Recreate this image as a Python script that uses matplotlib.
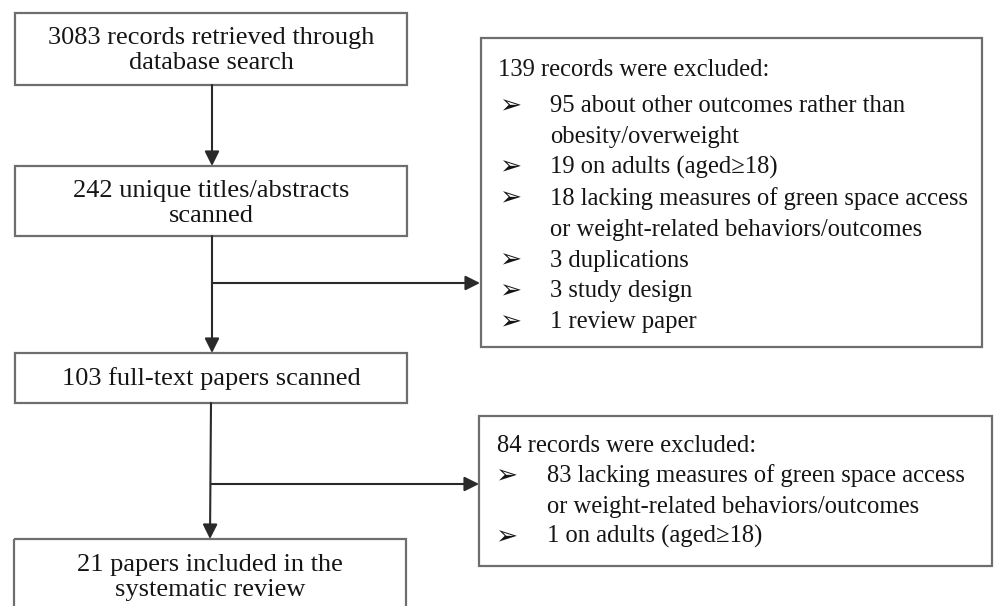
import matplotlib.pyplot as plt
from matplotlib.patches import Rectangle

# Teks untuk kotak di kolom kiri (alur utama)
main_steps = [
    "3083 records retrieved through\ndatabase search",
    "242 unique titles/abstracts\nscanned",
    "103 full-text papers scanned",
    "21 papers included in the\nsystematic review",
]

# Teks kotak pengecualian
excl1_title = "139 records were excluded:"
excl1_items = [
    "95 about other outcomes rather than\nobesity/overweight",
    "19 on adults (aged\u226518)",
    "18 lacking measures of green space access\nor weight-related behaviors/outcomes",
    "3 duplications",
    "3 study design",
    "1 review paper",
]
excl2_title = "84 records were excluded:"
excl2_items = [
    "83 lacking measures of green space access\nor weight-related behaviors/outcomes",
    "1 on adults (aged\u226518)",
]

FONT = ['Liberation Serif', 'DejaVu Serif']
BULLET_FONT = ['DejaVu Sans']
FS_MAIN = 19
FS_EXCL = 17.7
EDGE = '#6e6e6e'
LINE = '#2a2a2a'
TXT = '#151515'

fig = plt.figure(figsize=(9.97, 6.06), dpi=100)
ax = fig.add_axes([0, 0, 1, 1])
ax.set_xlim(0, 997)
ax.set_ylim(606, 0)
ax.axis('off')

# kotak kiri: (x0, y0, x1, y1) dan baseline baris pertama
main_boxes = [(15, 13, 407, 85), (15, 166, 407, 236), (15, 353, 407, 403), (14, 539, 406, 640)]
main_base = [44, 197, 385, 571]
for (x0, y0, x1, y1), by, txt in zip(main_boxes, main_base, main_steps):
    ax.add_patch(Rectangle((x0, y0), x1 - x0, y1 - y0, fill=False, edgecolor=EDGE, lw=1.6))
    for i, ln in enumerate(txt.split('\n')):
        ax.text((x0 + x1) / 2, by + i * 25, ln, ha='center', va='baseline',
                fontsize=FS_MAIN, family=FONT, color=TXT)


def arrow(x0, y0, x1, y1):
    ax.annotate('', xy=(x1, y1), xytext=(x0, y0),
                arrowprops=dict(arrowstyle='-|>', color=LINE, lw=1.5,
                                mutation_scale=22, shrinkA=0, shrinkB=0))


arrow(212, 85, 212, 166)
arrow(212, 236, 212, 353)
arrow(211, 403, 210, 539)
arrow(212, 283, 480, 283)
arrow(211, 484, 479, 484)


# kotak pengecualian
def excl_box(x0, y0, x1, y1, title, items, title_y, first_y, step, bx, tx, hx):
    ax.add_patch(Rectangle((x0, y0), x1 - x0, y1 - y0, fill=False, edgecolor=EDGE, lw=1.6))
    ax.text(hx, title_y, title, ha='left', va='baseline', fontsize=FS_EXCL,
            family=FONT, color=TXT)
    y = first_y
    for item in items:
        ax.text(bx, y - 6, '\u27a2', ha='center', va='center', fontsize=19,
                family=BULLET_FONT, color=TXT)
        for ln in item.split('\n'):
            ax.text(tx, y, ln, ha='left', va='baseline', fontsize=FS_EXCL,
                    family=FONT, color=TXT)
            y += step


excl_box(481, 38, 982, 347, excl1_title, excl1_items, 76, 112, 30.9, 510, 550, 498)
excl_box(479, 416, 992, 566, excl2_title, excl2_items, 452, 482, 30.5, 506, 547, 497)

fig.savefig('out.png', dpi=100)
